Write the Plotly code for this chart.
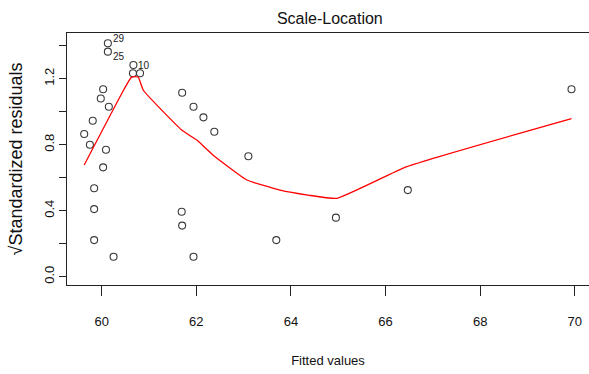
import plotly.graph_objects as go

# Fitted values and sqrt(|standardized residuals|) of the linear model
fitted = [59.63, 59.75, 59.81, 59.84, 59.84, 59.84, 59.98, 60.03, 60.03, 60.09,
          60.15, 60.25, 60.13, 60.13, 60.67, 60.66, 60.81, 61.70, 61.94, 62.15,
          62.38, 63.10, 61.69, 61.70, 61.94, 63.69, 64.95, 66.47, 69.93]
sqrt_std_resid = [0.865, 0.80, 0.945, 0.536, 0.41, 0.222, 1.08, 1.136, 0.663, 0.77,
                  1.03, 0.121, 1.415, 1.364, 1.283, 1.233, 1.233, 1.115, 1.03, 0.966,
                  0.879, 0.73, 0.394, 0.31, 0.121, 0.222, 0.358, 0.525, 1.136]

# Observations flagged with their index (largest residuals)
flag_x = [60.13, 60.13, 60.67]
flag_y = [1.415, 1.364, 1.283]
flag_labels = ["29", "25", "10"]

# Lowess smoother through the points
smooth_x = [59.63, 60.46, 60.63, 60.77, 60.88, 61.69, 62.01, 62.35, 63.07,
            63.77, 64.36, 64.97, 66.45, 69.93]
smooth_y = [0.677, 1.13, 1.21, 1.21, 1.13, 0.889, 0.828, 0.738, 0.586,
            0.525, 0.495, 0.475, 0.667, 0.958]

# Axis ticks
x_ticks = [60, 62, 64, 66, 68, 70]
y_ticks = [0.0, 0.2, 0.4, 0.6, 0.8, 1.0, 1.2, 1.4]
y_ticktext = ["0.0", "", "0.4", "", "0.8", "", "1.2", ""]

NARROW = "Liberation Sans Narrow, Arial Narrow, Liberation Sans, Arial, sans-serif"
REGULAR = "Liberation Sans, Arial, sans-serif"

fig = go.Figure()

fig.add_trace(go.Scatter(
    x=fitted, y=sqrt_std_resid, mode="markers",
    marker=dict(symbol="circle-open", size=7, color="#3a3a3a",
                line=dict(width=1.1, color="#3a3a3a")),
    hoverinfo="x+y", showlegend=False,
))

fig.add_trace(go.Scatter(
    x=smooth_x, y=smooth_y, mode="lines", line_shape="spline",
    line=dict(color="red", width=1.3, smoothing=0.4),
    hoverinfo="skip", showlegend=False,
))

# Index labels to the right of the flagged points; the two stacked ones
# are nudged apart vertically so they stay legible
label_yshift = [5, -5, 0]
for lx, ly, lab, dy in zip(flag_x, flag_y, flag_labels, label_yshift):
    fig.add_annotation(
        x=lx, y=ly, text=lab, showarrow=False,
        xanchor="left", yanchor="middle", xshift=3, yshift=dy,
        font=dict(family=NARROW, size=10, color="#222"),
    )

fig.update_layout(
    width=589, height=374,
    margin=dict(l=67, r=0, t=33, b=89),
    paper_bgcolor="white", plot_bgcolor="white",
    title=dict(text="Scale-Location", x=0.56, xref="container",
               xanchor="center", y=1 - 18 / 374, yanchor="middle",
               font=dict(family=NARROW, size=16, color="#111")),
    font=dict(family=NARROW, color="#111"),
)

fig.update_xaxes(
    range=[59.266, 70.30],
    tickvals=x_ticks, ticktext=[str(v) for v in x_ticks],
    ticks="outside", ticklen=10, tickwidth=1, tickcolor="#222",
    ticklabelstandoff=14,
    showline=True, linecolor="#222", linewidth=1.3, mirror=True,
    showgrid=False, zeroline=False,
    tickfont=dict(family=NARROW, size=13, color="#111"),
    title=dict(text="Fitted values", standoff=28,
               font=dict(family=NARROW, size=13, color="#111")),
)

fig.update_yaxes(
    range=[-0.050, 1.477],
    tickvals=y_ticks, ticktext=y_ticktext, tickangle=-90,
    ticks="outside", ticklen=7, tickwidth=1, tickcolor="#222",
    showline=True, linecolor="#222", linewidth=1.3, mirror=False,
    showgrid=False, zeroline=False,
    tickfont=dict(family=REGULAR, size=13, color="#111"),
    title=dict(text="√Standardized residuals", standoff=14,
               font=dict(family=REGULAR, size=18, color="#111")),
)

fig.write_html("out.html")
